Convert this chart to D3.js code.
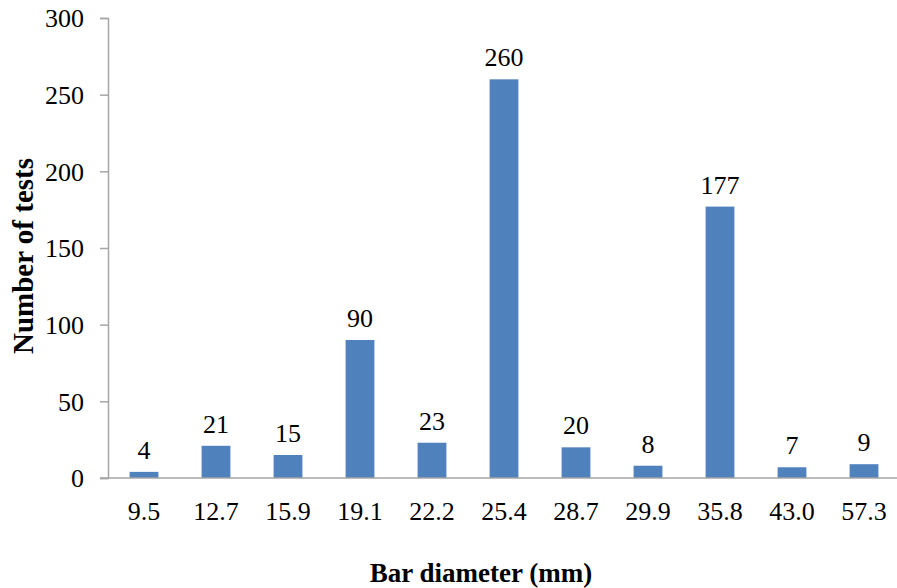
<!DOCTYPE html>
<html>
<head>
<meta charset="utf-8">
<script src="https://cdn.jsdelivr.net/npm/d3@7"></script>
<style>
  html, body { margin: 0; padding: 0; background: #fff; }
  svg { display: block; }
</style>
</head>
<body>
<svg id="chart" width="897" height="588"></svg>
<script>
const categories = ["9.5", "12.7", "15.9", "19.1", "22.2", "25.4", "28.7", "29.9", "35.8", "43.0", "57.3"];
const counts = [4, 21, 15, 90, 23, 260, 20, 8, 177, 7, 9];
const yTicks = [0, 50, 100, 150, 200, 250, 300];
const xTitle = "Bar diameter (mm)";
const yTitle = "Number of tests";

const serif = '"Liberation Serif", "Times New Roman", serif';
const svg = d3.select("#chart");
const mLeft = 108, mRight = 900, mTop = 18, mBottom = 478;
const axisColor = "#a6a6a6";
const barColor = "#4f81bd";

const x = d3.scaleBand().domain(categories).range([mLeft, mRight]).paddingInner(0.6).paddingOuter(0.3);
const y = d3.scaleLinear().domain([0, 300]).range([mBottom, mTop]);

// Y axis
const yAxis = d3.axisLeft(y).tickValues(yTicks).tickSize(8).tickPadding(16).tickFormat(d3.format("d"));
const gy = svg.append("g").attr("transform", `translate(${mLeft},0)`).call(yAxis)
  .attr("font-family", serif).attr("font-size", 26);
gy.select(".domain").attr("stroke", axisColor).attr("stroke-width", 1.5);
gy.selectAll(".tick line").attr("stroke", axisColor).attr("stroke-width", 1.5);
gy.selectAll(".tick text").attr("fill", "#000").attr("font-family", serif).attr("dy", "0.34em");

// Bars
svg.append("g").selectAll("rect").data(categories).join("rect")
  .attr("x", (d) => x(d))
  .attr("width", x.bandwidth())
  .attr("y", (d, i) => y(counts[i]))
  .attr("height", (d, i) => y(0) - y(counts[i]))
  .attr("fill", barColor);

// X axis
const xAxis = d3.axisBottom(x).tickSize(0).tickPadding(24);
const gx = svg.append("g").attr("transform", `translate(0,${mBottom})`).call(xAxis)
  .attr("font-family", serif).attr("font-size", 26);
gx.select(".domain").attr("d", `M${mLeft - 8},0H897`).attr("stroke", axisColor).attr("stroke-width", 1.5);
gx.selectAll(".tick text").attr("fill", "#000").attr("font-family", serif);

// Data labels
svg.append("g").selectAll("text").data(categories).join("text")
  .attr("x", (d) => x(d) + x.bandwidth() / 2)
  .attr("y", (d, i) => y(counts[i]) - 13)
  .attr("text-anchor", "middle")
  .attr("font-family", serif)
  .attr("font-size", 26)
  .text((d, i) => counts[i]);

// Axis titles
svg.append("text")
  .attr("x", 481)
  .attr("y", 582)
  .attr("text-anchor", "middle")
  .attr("font-family", serif)
  .attr("font-size", 27)
  .attr("font-weight", "bold")
  .text(xTitle);

svg.append("text")
  .attr("transform", "translate(33,256) rotate(-90)")
  .attr("text-anchor", "middle")
  .attr("font-family", serif)
  .attr("font-size", 29)
  .attr("font-weight", "bold")
  .text(yTitle);
</script>
</body>
</html>
